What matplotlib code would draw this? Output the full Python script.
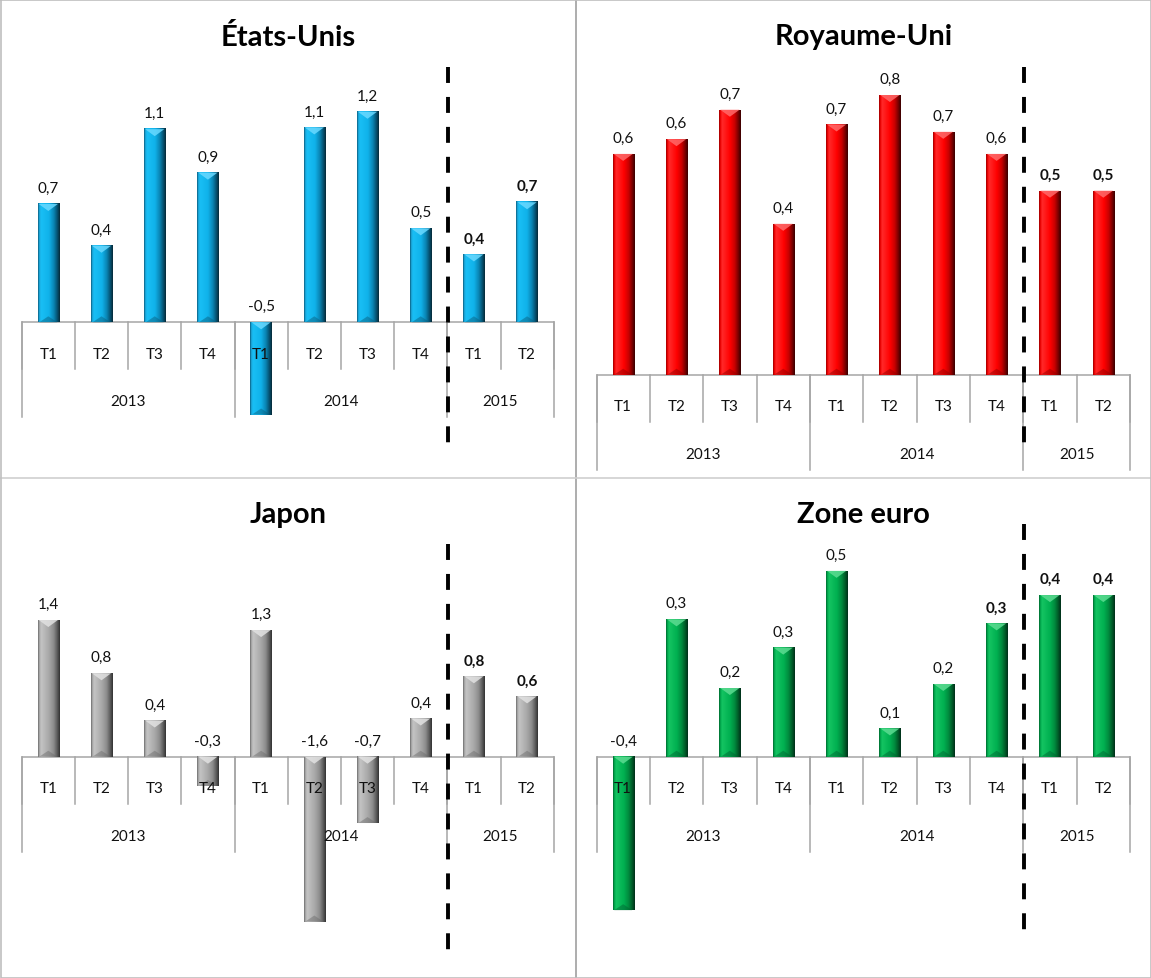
import numpy as np
import matplotlib
matplotlib.use("Agg")
import matplotlib.pyplot as plt
from matplotlib.colors import to_rgb
from matplotlib.patches import Polygon
from matplotlib.lines import Line2D

plt.rcParams['font.family'] = ['Lato', 'DejaVu Sans']

# ---------------- data ----------------
quarters = ["T1", "T2", "T3", "T4", "T1", "T2", "T3", "T4", "T1", "T2"]
years = ["2013", "2014", "2015"]
year_spans = [(0, 3), (4, 7), (8, 9)]

titles = ["États-Unis", "Royaume-Uni", "Japon", "Zone euro"]
us_values = [0.68, 0.44, 1.11, 0.86, -0.53, 1.12, 1.21, 0.54, 0.39, 0.69]
uk_values = [0.60, 0.64, 0.72, 0.41, 0.68, 0.76, 0.66, 0.60, 0.50, 0.50]
jp_values = [1.36, 0.83, 0.36, -0.29, 1.26, -1.64, -0.66, 0.38, 0.80, 0.60]
ez_values = [-0.38, 0.34, 0.17, 0.27, 0.46, 0.07, 0.18, 0.33, 0.40, 0.40]
us_bold = [8, 9]
uk_bold = [8, 9]
jp_bold = [8, 9]
ez_bold = [7, 8, 9]

# ---------------- styles ----------------
W, H = 1151, 979
stops = [0, 0.06, 0.14, 0.5, 0.72, 0.88, 1.0]
palettes = {
    "blue": (['#0b5f80', '#1aa8dc', '#19bff5', '#10b2ea', '#0a86b5', '#055373', '#062a38'], '#6ad9ff', '#0a5a78'),
    "red": (['#9a0000', '#f00000', '#ff2a2a', '#ff0000', '#c80000', '#7a0000', '#3a0000'], '#ff6a6a', '#8a0000'),
    "grey": (['#6e6e6e', '#a8a8a8', '#c4c4c4', '#a8a8a8', '#8c8c8c', '#5c5c5c', '#333333'], '#e2e2e2', '#6a6a6a'),
    "green": (['#006a30', '#00a84c', '#14c462', '#00b050', '#008a3e', '#005a28', '#00301a'], '#5ddc92', '#006030'),
}

# panel layout in pixels: axes box, axis left, category width, zero line y, px/unit, dash top/bottom, title y
panels = [
    dict(title=titles[0], values=us_values, bold=us_bold, pal="blue",
         box=(0, 0, 575, 478), L=21.7, cw=53.2, y0=323.3, s=174, dash=(68, 447), ty=37),
    dict(title=titles[1], values=uk_values, bold=uk_bold, pal="red",
         box=(576, 0, 1151, 478), L=596.5, cw=53.35, y0=375.7, s=368, dash=(68, 448), ty=37),
    dict(title=titles[2], values=jp_values, bold=jp_bold, pal="grey",
         box=(0, 479, 575, 979), L=21.7, cw=53.2, y0=757.7, s=100.5, dash=(545, 952), ty=515),
    dict(title=titles[3], values=ez_values, bold=ez_bold, pal="green",
         box=(576, 479, 1151, 979), L=596.5, cw=53.35, y0=757.7, s=404, dash=(525, 933), ty=515),
]

fig = plt.figure(figsize=(W / 100, H / 100), dpi=100)
fig.patch.set_facecolor("white")

axis_grey = "#a6a6a6"
text_col = "#111111"
bar_w = 0.40
fs = 11

for p in panels:
    x0, y_top, x1, y_bot = p["box"]
    ax = fig.add_axes([x0 / W, 1 - y_bot / H, (x1 - x0) / W, (y_bot - y_top) / H])
    ax.axis("off")
    L, cw, y0, s = p["L"], p["cw"], p["y0"], p["s"]
    xlim = ((x0 - L) / cw - 0.5, (x1 - L) / cw - 0.5)
    ylim = ((y0 - y_bot) / s, (y0 - y_top) / s)

    vals = np.array(p["values"], dtype=float)
    xs = np.arange(len(vals))
    cols, light, dark = palettes[p["pal"]]
    rgb = np.array([to_rgb(c) for c in cols])
    t = np.linspace(0, 1, 64)
    grad = np.stack([np.interp(t, stops, rgb[:, k]) for k in range(3)], axis=-1)[None, :, :]

    px = 1.0 / s  # one pixel in data units (vertical)
    for x, v in zip(xs, vals):
        up, lo = max(v, 0.0), min(v, 0.0)
        ax.imshow(grad, extent=(x - bar_w / 2, x + bar_w / 2, lo, up), aspect="auto",
                  interpolation="bilinear", zorder=3)
        d = min(7 * px, (up - lo) * 0.45)
        ax.add_patch(Polygon([(x - bar_w / 2 + 0.02, up), (x + bar_w / 2 - 0.02, up), (x, up - d)],
                             closed=True, facecolor=light, edgecolor="none", alpha=0.85, zorder=4))
        db = min(6 * px, (up - lo) * 0.3)
        ax.add_patch(Polygon([(x - bar_w / 2 + 0.03, lo), (x + bar_w / 2 - 0.03, lo), (x, lo + db)],
                             closed=True, facecolor=dark, edgecolor="none", alpha=0.45, zorder=4))

    # category axis (two levels)
    n = len(vals)
    ax.plot([-0.5, n - 0.5], [0, 0], color=axis_grey, lw=1.1, zorder=1, solid_capstyle="butt")
    year_bounds = [a - 0.5 for a, b in year_spans] + [year_spans[-1][1] + 0.5]
    for b in np.arange(n + 1) - 0.5:
        ax.plot([b, b], [0, -47 * px], color=axis_grey, lw=1.1, zorder=1)
    for b in year_bounds:
        ax.plot([b, b], [0, -95 * px], color=axis_grey, lw=1.1, zorder=1)
    for x, q in zip(xs, quarters):
        ax.text(x, -31.5 * px, q, ha="center", va="center", fontsize=fs, color=text_col, zorder=6)
    for (a, b), yr in zip(year_spans, years):
        ax.text((a + b) / 2, -79 * px, yr, ha="center", va="center", fontsize=fs, color=text_col, zorder=6)

    # data labels
    for i, (x, v) in enumerate(zip(xs, vals)):
        lab = f"{v:.1f}".replace(".", ",")
        ax.annotate(lab, (x, max(v, 0.0)), xytext=(0, 11.5), textcoords="offset points",
                    ha="center", va="center", fontsize=fs, color=text_col,
                    fontweight="bold" if i in p["bold"] else "normal", zorder=6)

    # forecast separator
    xd = 7.5 + 0.02
    ax.plot([xd, xd], [(y0 - p["dash"][0]) / s, (y0 - p["dash"][1]) / s], color="black",
            lw=2.8, ls=(0, (4.1, 3.6)), dash_capstyle="butt", zorder=7)

    ax.set_xlim(*xlim)
    ax.set_ylim(*ylim)

    fig.text((L + 5 * cw) / W, 1 - p["ty"] / H, p["title"], ha="center", va="center",
             fontsize=21, fontweight="bold", color="black")

# panel borders
border = "#bfbfbf"
fig.add_artist(Line2D([575.5 / W, 575.5 / W], [0, 1], color="#a0a0a0", lw=1.2))
fig.add_artist(Line2D([0, 1], [1 - 478.5 / H, 1 - 478.5 / H], color="#d0d0d0", lw=1.2))
fig.add_artist(Line2D([0.5 / W, 1 - 0.5 / W, 1 - 0.5 / W, 0.5 / W, 0.5 / W],
                      [1 - 0.5 / H, 1 - 0.5 / H, 0.5 / H, 0.5 / H, 1 - 0.5 / H], color=border, lw=1.2))

fig.savefig("out.png", dpi=100, facecolor="white")
